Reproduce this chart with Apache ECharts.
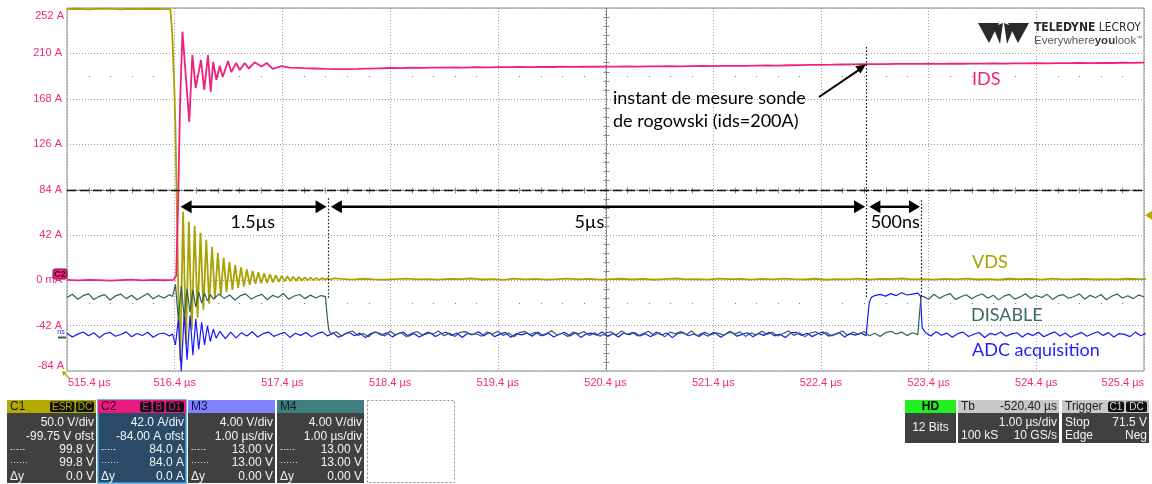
<!DOCTYPE html>
<html>
<head>
<meta charset="utf-8">
<script src="https://cdn.jsdelivr.net/npm/echarts@6/dist/echarts.min.js"></script>
<style>
  html, body { margin: 0; padding: 0; background: #ffffff; }
  #chart { width: 1152px; height: 484px; }
</style>
</head>
<body>
<div id="chart"></div>
<script>
// ---------------------------------------------------------------------------
// Time base and tick labels
// ---------------------------------------------------------------------------
const T0 = 515.4;                       // µs at the left edge of the screen
const xTickLabels = ['515.4 µs', '516.4 µs', '517.4 µs', '518.4 µs', '519.4 µs', '520.4 µs',
                     '521.4 µs', '522.4 µs', '523.4 µs', '524.4 µs', '525.4 µs'];
const yTickLabels = ['-84 A', '-42 A', '0 mA', '42 A', '84 A', '126 A', '168 A', '210 A', '252 A'];

// ---------------------------------------------------------------------------
// C2 : IDS, amperes
// ---------------------------------------------------------------------------
const idsIdle = { t: 515.40, dt: 0.1, v: [0.3, -0.2, 0.4, 0.1, -0.3, 0.2, 0.5, -0.1, 0.3, 0.0] };
const idsEdge = [[516.39, 0.4], [516.405, 1.5], [516.414, 4.1], [516.432, 74], [516.451, 167], [516.472, 230.1]];
const idsRing = [[516.535, 146.6], [516.564, 208.5], [516.595, 178.0], [516.644, 203.9], [516.674, 176.2],
                 [516.709, 208.5], [516.734, 174.3], [516.757, 202.0], [516.787, 185.4], [516.818, 198.3],
                 [516.846, 188.2], [516.895, 203.0], [516.925, 192.8], [516.971, 201.1], [517.004, 194.6],
                 [517.050, 201.1], [517.087, 196.0], [517.143, 201.6], [517.208, 197.9], [517.254, 201.1],
                 [517.310, 195.6], [517.394, 198.3], [517.468, 196.9], [517.561, 196.5]];
const idsTail = { t: 517.6, dt: 0.1, v: [
  196.3, 196.0, 195.7, 195.5, 195.4, 195.6, 195.9, 196.2, 196.5, 196.4,
  196.7, 196.6, 196.9, 196.8, 197.0, 196.9, 197.2, 197.1, 197.3, 197.2,
  197.4, 197.3, 197.5, 197.4, 197.6, 197.5, 197.7, 197.6, 197.8, 197.7,
  197.9, 197.8, 198.0, 197.9, 198.1, 198.0, 198.2, 198.3, 198.2, 198.4,
  198.5, 198.4, 198.7, 198.8, 198.7, 199.0, 199.1, 199.3, 199.4, 199.5,
  199.7, 199.8, 200.0, 200.1, 200.0, 200.2, 200.3, 200.2, 200.4, 200.3,
  200.5, 200.4, 200.6, 200.5, 200.7, 200.6, 200.8, 200.7, 200.9, 200.8,
  201.0, 200.9, 201.1, 201.0, 201.2, 201.1, 201.3, 201.2, 201.4] };

// ---------------------------------------------------------------------------
// C1 : VDS, volts
// ---------------------------------------------------------------------------
const vdsIdle = { t: 515.40, dt: 0.1, v: [298.4, 298.9, 298.2, 298.7, 299.0, 298.3, 298.8, 298.5, 298.9, 298.4] };
const vdsFall = [[516.36, 298.6], [516.369, 297.5], [516.379, 268.1], [516.388, 237.0], [516.397, 209.4],
                 [516.407, 165.4], [516.419, 88.3], [516.433, -10.8]];
const vdsRing = { t: 516.451, dt: 0.0269, v: [
  -89.0, 75.1, -71.4, 64.1, -54.9, 59.7, -41.6, 52.0, -32.8, 44.3,
  -26.2, 36.6, -20.7, 30.0, -16.3, 24.5, -13.0, 20.1, -10.8, 16.8,
  -8.6, 14.0, -7.0, 11.8, -5.3, 10.1, -4.2, 8.5, -3.7, 7.4,
  -3.1, 6.3, -2.6, 5.2, -2.0, 4.6, -1.5, 4.1, -1.1, 3.5,
  -0.9, 3.2, -0.7, 2.9, -0.5, 2.6, -0.3, 2.4, 0.0, 2.2,
  0.2, 2.0, 0.3, 1.9] };
const vdsTail = { t: 517.95, dt: 0.1, v: [
  1.2, 0.5, 1.4, 0.8, 0.3, 1.1, 1.6, 0.7, 1.0, 0.4, 1.3, 0.9, 1.7, 0.6, 1.1, 0.2, 1.5, 0.8, 1.2, 0.5,
  1.0, 1.6, 0.7, 1.3, 0.4, 0.9, 1.4, 0.6, 1.2, 0.3, 1.1, 1.7, 0.8, 1.0, 0.5, 1.5, 0.9, 1.3, 0.4, 1.2,
  0.7, 1.6, 1.0, 0.6, 1.4, 0.3, 1.1, 0.8, 1.5, 0.5, 1.2, 0.9, 1.7, 0.7, 1.0, 0.4, 1.3, 0.8, 1.6, 0.6,
  1.1, 0.3, 1.4, 0.9, 1.2, 0.5, 1.5, 0.7, 1.0, 1.3, 0.6, 1.1, 0.8, 1.4, 0.9, 1.0] };

// ---------------------------------------------------------------------------
// M4 : DISABLE, volts
// ---------------------------------------------------------------------------
const disHighA = { t: 515.40, dt: 0.05, v: [
  3.20, 3.48, 3.05, 3.36, 3.52, 3.02, 3.30, 3.45, 2.98, 3.34,
  3.50, 3.10, 3.40, 3.00, 3.28, 3.55, 3.08, 3.38, 3.14, 3.44] };
const disBurst = { t: 516.38, dt: 0.027, v: [3.30, 4.35, 1.25, 4.20, 1.45, 3.95, 1.90, 3.85, 2.35, 3.70, 2.70, 3.60, 2.90, 3.45] };
const disHighB = { t: 516.76, dt: 0.05, v: [
  3.05, 3.50, 3.12, 3.42, 2.98, 3.36, 3.52, 3.06, 3.31, 3.47,
  3.00, 3.39, 3.20, 3.55, 3.04, 3.33, 3.46, 3.10, 3.41, 3.16, 3.37] };
const disFall = [[517.80, 3.28], [517.815, 1.6], [517.83, 0.35]];
const disLow = { t: 517.85, dt: 0.05, v: [
  -0.05, 0.18, -0.22, 0.09, 0.25, -0.14, 0.03, -0.27, 0.16, 0.07, -0.19, 0.22, -0.08, 0.12, -0.25, 0.04, 0.20, -0.11, 0.15, -0.02,
  0.24, -0.17, 0.06, -0.23, 0.13, 0.19, -0.09, 0.01, -0.21, 0.17, -0.04, 0.23, -0.15, 0.08, -0.26, 0.11, 0.21, -0.07, 0.14, -0.18,
  0.02, 0.26, -0.12, 0.05, -0.24, 0.16, -0.01, 0.20, -0.16, 0.10, -0.22, 0.07, 0.18, -0.10, 0.24, -0.06, 0.12, -0.20, 0.03, 0.22,
  -0.13, 0.09, -0.27, 0.15, 0.00, 0.19, -0.08, 0.25, -0.17, 0.06, -0.21, 0.13, 0.04, -0.14, 0.21, -0.03, 0.17, -0.23, 0.08, -0.11,
  0.23, -0.05, 0.14, -0.19, 0.02, 0.26, -0.15, 0.10, -0.25, 0.07, 0.18, -0.09, 0.12, -0.20, 0.01, 0.24, -0.12, 0.16, -0.06, 0.20,
  -0.18, 0.05, -0.24, 0.11, 0.22, -0.02, 0.15, -0.16, 0.09, -0.07] };
const disRise = [[523.315, 1.7], [523.33, 3.3]];
const disHighC = { t: 523.35, dt: 0.05, v: [
  3.30, 3.05, 3.49, 3.12, 3.38, 3.54, 3.01, 3.27, 3.44, 3.09,
  3.35, 3.51, 3.14, 3.40, 2.99, 3.32, 3.47, 3.06, 3.25, 3.53,
  3.11, 3.37, 3.20, 3.48, 3.03, 3.34, 3.45, 3.13, 3.29, 3.52,
  3.07, 3.39, 3.18, 3.46, 3.00, 3.31, 3.50, 3.15, 3.36, 3.10, 3.43, 3.24] };

// ---------------------------------------------------------------------------
// M3 : ADC acquisition, volts
// ---------------------------------------------------------------------------
const adcLowA = { t: 515.40, dt: 0.05, v: [
  0.12, -0.21, 0.05, 0.24, -0.10, 0.17, -0.26, 0.08, 0.20, -0.14,
  0.02, 0.25, -0.18, 0.11, -0.07, 0.22, -0.23, 0.06, 0.15, -0.12] };
const adcBurst = { t: 516.38, dt: 0.027, v: [0.05, -0.9, 1.4, -3.2, 1.9, -2.2, 1.7, -1.8, 1.4, -1.3, 1.1, -0.9, 0.8, -0.6, 0.5, -0.3] };
const adcLowB = { t: 516.82, dt: 0.05, v: [
  0.30, -0.35, 0.22, -0.28, 0.18, -0.12, 0.26, -0.20, 0.09, 0.23,
  -0.15, 0.04, 0.21, -0.24, 0.13, -0.06, 0.19, -0.18, 0.07, 0.25,
  -0.11, 0.16, -0.22, 0.02, 0.20, -0.09, 0.14, -0.26, 0.10, 0.23,
  -0.04, 0.17, -0.19, 0.06, 0.24, -0.13, 0.11, -0.21, 0.03, 0.18,
  -0.16, 0.08, 0.22, -0.07, 0.15, -0.25, 0.12, 0.01, 0.26, -0.10,
  0.19, -0.17, 0.05, 0.21, -0.23, 0.09, -0.02, 0.16, -0.14, 0.24,
  -0.08, 0.13, -0.20, 0.04, 0.22, -0.11, 0.18, -0.24, 0.07, 0.14,
  -0.05, 0.25, -0.15, 0.10, -0.21, 0.17, 0.00, 0.20, -0.12, 0.08,
  -0.18, 0.23, -0.03, 0.15, -0.26, 0.11, 0.19, -0.09, 0.06, -0.16,
  0.21, -0.01, 0.14, -0.22, 0.09, 0.24, -0.13, 0.03, 0.17, -0.19,
  0.12, -0.06, 0.22, -0.10, 0.05, -0.25, 0.16, 0.20, -0.07, 0.13,
  -0.17, 0.08, 0.25, -0.12, 0.02, 0.18, -0.21, 0.10, -0.04, 0.15,
  -0.08] };
const adcRise = [[522.835, 1.5], [522.85, 2.9], [522.87, 3.3], [522.90, 3.45]];
const adcHigh = { t: 522.95, dt: 0.05, v: [3.55, 3.40, 3.62, 3.45, 3.70, 3.50, 3.58, 3.66] };
const adcFall = [[523.325, 3.4], [523.34, 0.6]];
const adcLowC = { t: 523.37, dt: 0.05, v: [
  0.20, -0.12, 0.26, -0.05, 0.14, -0.22, 0.09, 0.23, -0.16, 0.04,
  0.19, -0.25, 0.11, -0.02, 0.24, -0.14, 0.07, 0.17, -0.20, 0.12,
  -0.08, 0.22, -0.18, 0.05, 0.25, -0.11, 0.15, -0.23, 0.01, 0.20,
  -0.13, 0.08, 0.26, -0.06, 0.18, -0.21, 0.10, 0.03, -0.17, 0.23, -0.09, 0.12] };

// ---------------------------------------------------------------------------
// Vertical settings of each channel, mapped onto the C2 (A) graticule
// ---------------------------------------------------------------------------
const C2_CENTER = 84, C2_PER_DIV = 42;          // A
const C1_OFFSET_V = 99.75, C1_PER_DIV = 50;     // V
const M_PER_DIV = 4;                             // V
const M3_ZERO_DIV = -3.20, M4_ZERO_DIV = -3.18;  // ground position, div from centre

const fromC1 = v => C2_CENTER + (v - C1_OFFSET_V) / C1_PER_DIV * C2_PER_DIV;
const fromM = zero => v => C2_CENTER + (zero + v / M_PER_DIV) * C2_PER_DIV;

// merge uniformly sampled runs and explicit points into [t, value] pairs
function trace(parts, conv) {
  const out = [];
  parts.forEach(p => {
    if (Array.isArray(p)) p.forEach(([t, v]) => out.push([t - T0, conv(v)]));
    else p.v.forEach((v, i) => out.push([p.t + i * p.dt - T0, conv(v)]));
  });
  return out;
}
const same = v => v;

const COL_IDS = '#f0207f', COL_VDS = '#aaa200', COL_DIS = '#2f615e', COL_ADC = '#1717ff';
const PINK_TXT = '#f0287f';

const chart = echarts.init(document.getElementById('chart'), null, { renderer: 'canvas' });

function lineSeries(name, data, color, width, z) {
  return { name, type: 'line', data, showSymbol: false, symbol: 'none', clip: true, silent: true,
           z, lineStyle: { color, width }, itemStyle: { color }, emphasis: { disabled: true } };
}

chart.setOption({
  animation: false,
  backgroundColor: '#ffffff',
  grid: { left: 67, top: 8, width: 1077, height: 363, show: true, borderColor: '#8c8c8c', borderWidth: 1,
          containLabel: false, outerBoundsMode: 'none' },
  xAxis: {
    type: 'value', min: 0, max: 10, interval: 1,
    axisLine: { show: false }, axisTick: { show: false },
    splitLine: { show: true, lineStyle: { color: '#9c9c9c', width: 1, type: [1, 2] } },
    axisLabel: { color: PINK_TXT, fontSize: 11, fontFamily: 'Liberation Sans, Arial, sans-serif', margin: 6,
                 showMinLabel: false, showMaxLabel: false,
                 formatter: v => xTickLabels[Math.round(v)] }
  },
  yAxis: {
    type: 'value', min: -84, max: 252, interval: 42,
    axisLine: { show: false }, axisTick: { show: false },
    splitLine: { show: true, lineStyle: { color: '#9c9c9c', width: 1, type: [1, 2] } },
    axisLabel: { color: PINK_TXT, fontSize: 11, fontFamily: 'Liberation Sans, Arial, sans-serif', margin: 5,
                 showMinLabel: false, showMaxLabel: false,
                 formatter: v => yTickLabels[Math.round((v + 84) / 42)] }
  },
  series: [
    lineSeries('VDS', trace([vdsIdle, vdsFall, vdsRing, vdsTail], fromC1), COL_VDS, 1.8, 3),
    lineSeries('ADC acquisition', trace([adcLowA, adcBurst, adcLowB, adcRise, adcHigh, adcFall, adcLowC], fromM(M3_ZERO_DIV)), COL_ADC, 1.2, 4),
    lineSeries('DISABLE', trace([disHighA, disBurst, disHighB, disFall, disLow, disRise, disHighC], fromM(M4_ZERO_DIV)), COL_DIS, 1.2, 5),
    lineSeries('IDS', trace([idsIdle, idsEdge, idsRing, idsTail], same), COL_IDS, 1.8, 6)
  ]
});

// ---------------------------------------------------------------------------
// Overlay: centre cross, cursors, annotations, logo and the readout boxes
// ---------------------------------------------------------------------------
const P = (t, a) => chart.convertToPixel({ gridIndex: 0 }, [t - T0, a]);
const crisp = v => Math.round(v) + 0.5;

function seg(x1, y1, x2, y2, stroke, lineWidth, dash, z) {
  return { type: 'line', z: z || 10, silent: true,
           shape: { x1, y1, x2, y2 },
           style: { stroke, lineWidth, lineDash: dash || null } };
}
function txt(x, y, text, opts) {
  const o = opts || {};
  return { type: 'text', z: o.z || 20, silent: true, x, y,
           style: { text, fill: o.fill || '#000', font: o.font || '12px "Liberation Sans", Arial, sans-serif',
                    align: o.align || 'left', textAlign: o.align || 'left',
                    verticalAlign: 'middle', textVerticalAlign: 'middle', rich: o.rich } };
}
function rect(x, y, w, h, fill, stroke, lineWidth, r, dash, z) {
  return { type: 'rect', z: z || 15, silent: true, shape: { x, y, width: w, height: h, r: r || 0 },
           style: { fill: fill || 'none', stroke: stroke || null, lineWidth: lineWidth || 0, lineDash: dash || null } };
}
function poly(points, fill, z) {
  return { type: 'polygon', z: z || 20, silent: true, shape: { points }, style: { fill } };
}
function head(x, y, dir, len, half) {
  return poly([[x, y], [x - dir * len, y - half], [x - dir * len, y + half]], '#000', 30);
}
function dimension(tA, tB, a) {
  const [x1, y] = P(tA, a), [x2] = P(tB, a);
  return [seg(x1 + 10, y, x2 - 10, y, '#000', 2.4, null, 30), head(x1, y, -1, 11, 6.5), head(x2, y, 1, 11, 6.5)];
}

function buildGraphics() {
  const g = [];
  const [xL, yT] = P(T0, 252);
  const [xR, yB] = P(T0 + 10, -84);
  const [xC, yC] = P(520.4, 84);
  const cx = crisp(xC), cy = crisp(yC);

  // centre cross with minor ticks
  g.push(seg(xL, cy, xR, cy, '#8c8c8c', 1, null, 1));
  g.push(seg(cx, yT, cx, yB, '#8c8c8c', 1, null, 1));
  for (let k = 1; k < 40; k++) {
    if (k % 5 === 0) continue;
    const y = crisp(P(520.4, 252 - k * 8.4)[1]);
    g.push(seg(cx - 3, y, cx + 3, y, '#8c8c8c', 1, null, 1));
  }
  for (let k = 1; k < 50; k++) {
    if (k % 5 === 0) continue;
    const x = crisp(P(T0 + k * 0.2, 84)[0]);
    g.push(seg(x, cy - 3, x, cy + 3, '#8c8c8c', 1, null, 1));
  }
  // dotted rows 2.5 div above and below centre
  [189, -21].forEach(a => {
    const y = Math.round(P(T0, a)[1]);
    for (let k = 1; k < 50; k++) {
      if (k % 5 === 0) continue;
      const x = Math.round(P(T0 + k * 0.2, a)[0]);
      g.push(rect(x, y, 1, 1, '#7a7a7a', null, 0, 0, null, 1));
    }
  });

  // end labels of both axes
  const axF = '11px "Liberation Sans", Arial, sans-serif';
  g.push(txt(xL - 3, yT + 8, yTickLabels[8], { fill: PINK_TXT, align: 'right', font: axF }));
  g.push(txt(xL - 3, yB - 5, yTickLabels[0], { fill: PINK_TXT, align: 'right', font: axF }));
  g.push(txt(xL + 1, yB + 12, xTickLabels[0], { fill: PINK_TXT, align: 'left', font: axF }));
  g.push(txt(xR, yB + 12, xTickLabels[10], { fill: PINK_TXT, align: 'right', font: axF }));

  // horizontal cursor at 84 A
  g.push(seg(xL, cy, xR, cy, '#111', 1.6, [9, 4], 25));

  // vertical annotation cursors
  const vline = (t, a1, a2) => { const [x, y1] = P(t, a1); const [, y2] = P(t, a2);
    return seg(crisp(x), y1, crisp(x), y2, '#111', 1.2, [1.5, 2], 25); };
  g.push(vline(522.82, 216, -17));
  g.push(vline(517.82, 76, -17));
  g.push(vline(523.33, 74, -15));

  // dimension arrows
  g.push(...dimension(516.455, 517.81, 68));
  g.push(...dimension(517.85, 522.81, 68));
  g.push(...dimension(522.85, 523.32, 68));
  const lbl = '18px Lato, "Open Sans", sans-serif';
  g.push(txt(P(517.125, 0)[0], P(0, 54)[1], '1.5µs', { font: lbl, align: 'center' }));
  g.push(txt(P(520.25, 0)[0], P(0, 54)[1], '5µs', { font: lbl, align: 'center' }));
  g.push(txt(P(523.09, 0)[0], P(0, 54)[1], '500ns', { font: lbl, align: 'center' }));

  // measurement instant
  g.push(txt(613, 98, 'instant de mesure sonde', { font: lbl }));
  g.push(txt(613, 121, 'de rogowski (ids=200A)', { font: lbl }));
  const [ax, ay] = P(522.82, 200);
  g.push(seg(819, 97, ax - 6, ay + 5, '#000', 2, null, 30));
  {
    const dx = ax - 819, dy = ay - 97, L = Math.hypot(dx, dy), ux = dx / L, uy = dy / L;
    const bx = ax - ux * 10, by = ay - uy * 10;
    g.push(poly([[ax, ay], [bx - uy * 4.5, by + ux * 4.5], [bx + uy * 4.5, by - ux * 4.5]], '#000', 30));
  }

  // trace names
  g.push(txt(972, 79, 'IDS', { font: lbl, fill: COL_IDS }));
  g.push(txt(972, 262, 'VDS', { font: lbl, fill: '#a8a000' }));
  g.push(txt(971, 315, 'DISABLE', { font: lbl, fill: '#3a6a66' }));
  g.push(txt(972, 350, 'ADC acquisition', { font: lbl, fill: '#1e1eff' }));

  // channel ground / level markers
  g.push(rect(53, 269, 14, 10, '#f0207f', '#7a0c40', 1, 2, null, 40));
  g.push(txt(60, 274.5, 'C2', { font: 'bold 9px "Liberation Sans", Arial, sans-serif', fill: '#3a0018', align: 'center', z: 41 }));
  g.push(seg(58, 337.5, 66, 337.5, COL_DIS, 2, null, 40));
  g.push(txt(61, 332, 'ns', { font: '7px "Liberation Sans", Arial, sans-serif', fill: COL_ADC, align: 'center', z: 41 }));
  const [, trigY] = P(T0, fromC1(71.5));
  g.push(poly([[1145, trigY], [1152, trigY - 4.5], [1152, trigY + 4.5]], '#b5ad00', 40));
  g.push(seg(64, 373, 69, 378, '#b5ad00', 1.5, null, 40));
  g.push(poly([[62, 371], [67, 372], [63, 376]], '#b5ad00', 40));

  // logo
  const logo = '#2a2a2a';
  g.push(poly([[978, 23], [999, 23], [989, 43]], logo, 20));
  g.push(poly([[993, 27], [1003, 23], [1000, 44]], logo, 20));
  g.push(poly([[1014, 27], [1004, 23], [1007, 44]], logo, 20));
  g.push(poly([[1029, 23], [1008, 23], [1018, 43]], logo, 20));
  g.push({ type: 'text', z: 20, silent: true, x: 1034, y: 28,
           style: { text: '{b|TELEDYNE} {r|LECROY}', verticalAlign: 'middle', textVerticalAlign: 'middle',
                    rich: { b: { font: 'bold 12px "DejaVu Sans Condensed", "Liberation Sans Narrow", sans-serif', fill: '#2a2a2a' },
                            r: { font: '12px "DejaVu Sans Condensed", "Liberation Sans Narrow", sans-serif', fill: '#2a2a2a' } } } });
  g.push({ type: 'text', z: 20, silent: true, x: 1034, y: 41,
           style: { text: '{r|Everywhere}{b|you}{r|look}{t|™}', verticalAlign: 'middle', textVerticalAlign: 'middle',
                    rich: { b: { font: 'bold 11.5px "Liberation Sans", Arial, sans-serif', fill: '#3a3a3a' },
                            r: { font: '11.5px "Liberation Sans", Arial, sans-serif', fill: '#5a5a5a' },
                            t: { font: '6px "Liberation Sans", Arial, sans-serif', fill: '#5a5a5a', verticalAlign: 'top' } } } });

  // readout boxes
  const F = '12px "Liberation Sans", Arial, sans-serif';
  const rows = [423, 436.5, 450, 463, 476.5];
  function channelBox(x, w, head, headTxt, title, badges, badgeTxt, body, lines, selected) {
    g.push(rect(x, 400, w, 83, body, selected ? '#3ea2e2' : null, selected ? 1.5 : 0, 0, null, 15));
    g.push(rect(x, 400, w, 13, head, null, 0, 0, null, 16));
    g.push(txt(x + 3, 407, title, { font: F, fill: headTxt }));
    let bx = x + w - 2;
    for (let i = badges.length - 1; i >= 0; i--) {
      const bw = badges[i].length * 6.5 + 5;
      bx -= bw;
      g.push(rect(bx, 401.5, bw, 10.5, '#111', null, 0, 2, null, 17));
      g.push(txt(bx + bw / 2, 407, badges[i], { font: '10px "Liberation Sans", Arial, sans-serif', fill: badgeTxt, align: 'center', z: 18 }));
      bx -= 1.5;
    }
    lines.forEach((ln, i) => {
      if (ln[0]) g.push(txt(x + 3, rows[i], ln[0], { font: ln[0] === 'Δy' ? F : '9px "Liberation Sans", Arial, sans-serif', fill: '#f0f0f0' }));
      g.push(txt(x + w - 2, rows[i], ln[1], { font: F, fill: '#f4f4f4', align: 'right' }));
    });
  }
  channelBox(7, 89, '#b3ab00', '#1a1a00', 'C1', ['ESR', 'DC'], '#b3ab00', '#404040',
    [['', '50.0 V/div'], ['', '-99.75 V ofst'], ['-·-·-', '99.8 V'], ['······', '99.8 V'], ['Δy', '0.0 V']], false);
  channelBox(98, 88, '#ea1a82', '#2a0015', 'C2', ['E', 'B', 'D1'], '#ea1a82', '#2b4a68',
    [['', '42.0 A/div'], ['', '-84.00 A ofst'], ['-·-·-', '84.0 A'], ['······', '84.0 A'], ['Δy', '0.0 A']], true);
  channelBox(188, 87, '#8282ff', '#10104a', 'M3', [], '#fff', '#404040',
    [['', '4.00 V/div'], ['', '1.00 µs/div'], ['-·-·-', '13.00 V'], ['······', '13.00 V'], ['Δy', '0.00 V']], false);
  channelBox(277, 87, '#3f7f7f', '#0c2020', 'M4', [], '#fff', '#404040',
    [['', '4.00 V/div'], ['', '1.00 µs/div'], ['-·-·-', '13.00 V'], ['······', '13.00 V'], ['Δy', '0.00 V']], false);
  g.push(rect(367.5, 400.5, 87, 82, '#ffffff', '#8a8a8a', 1, 0, [2, 2], 15));

  // acquisition boxes
  g.push(rect(905, 400, 51, 43, '#404040', null, 0, 0, null, 15));
  g.push(rect(905, 400, 51, 13, '#22ee22', null, 0, 0, null, 16));
  g.push(txt(930.5, 407, 'HD', { font: 'bold 12px "Liberation Sans", Arial, sans-serif', fill: '#000', align: 'center' }));
  g.push(txt(930.5, 428, '12 Bits', { font: F, fill: '#f4f4f4', align: 'center' }));

  g.push(rect(958, 400, 101, 43, '#404040', null, 0, 0, null, 15));
  g.push(rect(958, 400, 101, 13, '#c8c8c8', null, 0, 0, null, 16));
  g.push(txt(961, 407, 'Tb', { font: F, fill: '#202020' }));
  g.push(txt(1057, 407, '-520.40 µs', { font: F, fill: '#202020', align: 'right' }));
  g.push(txt(1057, 423, '1.00 µs/div', { font: F, fill: '#f4f4f4', align: 'right' }));
  g.push(txt(961, 436, '100 kS', { font: F, fill: '#f4f4f4' }));
  g.push(txt(1057, 436, '10 GS/s', { font: F, fill: '#f4f4f4', align: 'right' }));

  g.push(rect(1062, 400, 87, 43, '#404040', null, 0, 0, null, 15));
  g.push(rect(1062, 400, 87, 13, '#c8c8c8', null, 0, 0, null, 16));
  g.push(txt(1065, 407, 'Trigger', { font: F, fill: '#202020' }));
  g.push(rect(1108, 401.5, 16, 10.5, '#111', null, 0, 2, null, 17));
  g.push(txt(1116, 407, 'C1', { font: '10px "Liberation Sans", Arial, sans-serif', fill: '#d8d8d8', align: 'center', z: 18 }));
  g.push(rect(1126, 401.5, 21, 10.5, '#111', null, 0, 2, null, 17));
  g.push(txt(1136.5, 407, 'DC', { font: '10px "Liberation Sans", Arial, sans-serif', fill: '#d8d8d8', align: 'center', z: 18 }));
  g.push(txt(1065, 423, 'Stop', { font: F, fill: '#f4f4f4' }));
  g.push(txt(1147, 423, '71.5 V', { font: F, fill: '#f4f4f4', align: 'right' }));
  g.push(txt(1065, 436, 'Edge', { font: F, fill: '#f4f4f4' }));
  g.push(txt(1147, 436, 'Neg', { font: F, fill: '#f4f4f4', align: 'right' }));

  return g;
}

chart.setOption({ graphic: { elements: buildGraphics() } });
</script>
</body>
</html>
